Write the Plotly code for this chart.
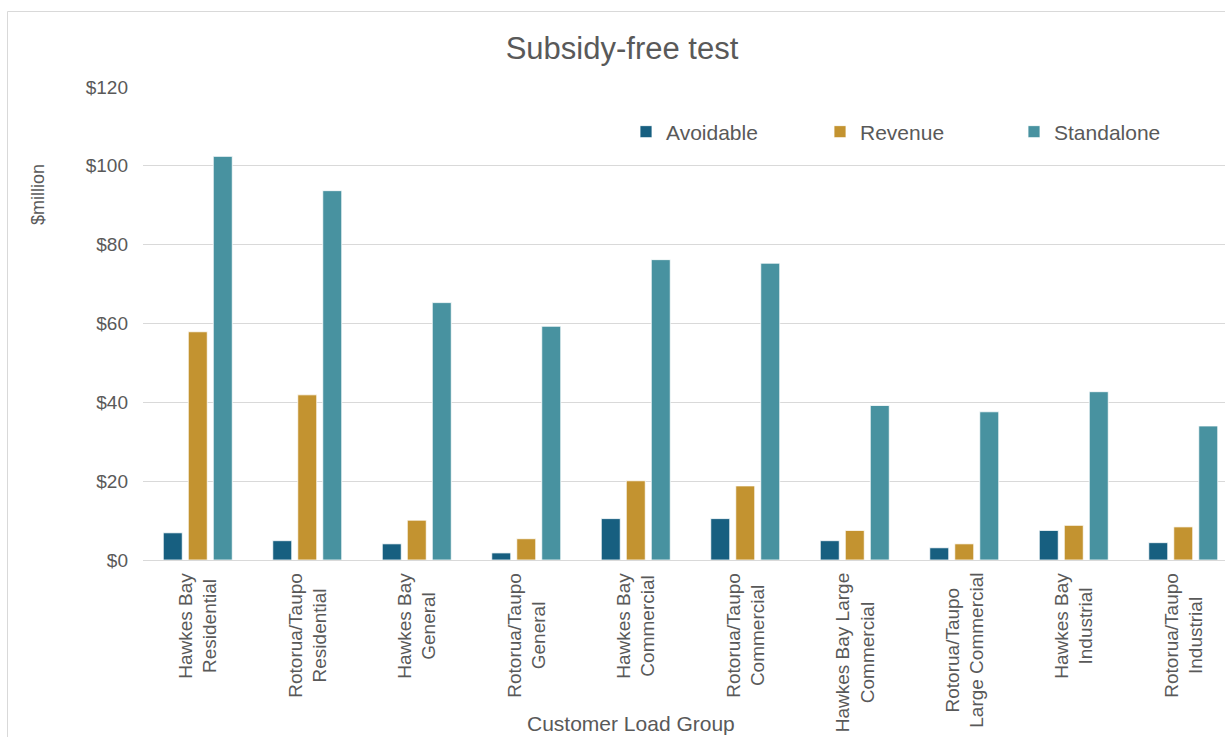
import plotly.graph_objects as go

categories = [
    "Hawkes Bay<br>Residential", "Rotorua/Taupo<br>Residential",
    "Hawkes Bay<br>General", "Rotorua/Taupo<br>General",
    "Hawkes Bay<br>Commercial", "Rotorua/Taupo<br>Commercial",
    "Hawkes Bay Large<br>Commercial", "Rotorua/Taupo<br>Large Commercial",
    "Hawkes Bay<br>Industrial", "Rotorua/Taupo<br>Industrial",
]
avoidable = [6.9, 4.9, 4.1, 1.8, 10.5, 10.5, 4.9, 3.1, 7.5, 4.4]
revenue = [57.9, 41.9, 10.1, 5.4, 20.1, 18.8, 7.5, 4.1, 8.8, 8.4]
standalone = [102.4, 93.7, 65.3, 59.3, 76.2, 75.3, 39.2, 37.6, 42.7, 34.0]
y_ticks = [0, 20, 40, 60, 80, 100, 120]
y_ticktext = ["$" + str(v) for v in y_ticks]

FONT = "Liberation Sans"
TXT = "#595959"

fig = go.Figure()
for name, vals, col in [("Avoidable", avoidable, "#175F80"),
                        ("Revenue", revenue, "#C39330"),
                        ("Standalone", standalone, "#4892A0")]:
    fig.add_trace(go.Bar(name=name, x=list(range(len(categories))), y=vals,
                         marker=dict(color=col, line=dict(color="#FFFFFF", width=0.8))))

L, R, T, B = 143, 0, 87, 177
W, H = 1225, 737
pw = W - L - R
ph = H - T - B
spacing = 109.5
xr_max = -0.5 + pw / spacing

def px_x(p):
    return (p - L) / pw

def px_y(p):
    return (H - B - p) / ph

annotations = [
    dict(text="$million", x=px_x(38), y=px_y(195), xref="paper", yref="paper",
         textangle=-90, showarrow=False, font=dict(size=18, color=TXT),
         xanchor="center", yanchor="middle"),
    dict(text="Customer Load Group", x=px_x(631), y=px_y(723), xref="paper", yref="paper",
         showarrow=False, font=dict(size=21, color=TXT),
         xanchor="center", yanchor="middle"),
]
for i, lab in enumerate(categories):
    annotations.append(dict(text=lab, x=i, y=px_y(571), xref="x", yref="paper",
                            textangle=-90, showarrow=False, align="center",
                            font=dict(size=19, color=TXT),
                            xanchor="center", yanchor="top"))

fig.update_layout(
    width=W, height=H,
    margin=dict(l=L, r=R, t=T, b=B, pad=0),
    paper_bgcolor="white", plot_bgcolor="white",
    font=dict(family=FONT, color=TXT, size=19),
    barmode="group", bargap=0.315, bargroupgap=0.24,
    title=dict(text="Subsidy-free test", x=622 / W, xanchor="center",
               y=1 - 48 / H, yanchor="middle", yref="container",
               font=dict(size=31, color=TXT, family=FONT)),
    showlegend=True,
    legend=dict(orientation="h", x=px_x(626), xanchor="left", y=px_y(132), yanchor="middle",
                font=dict(size=21, color=TXT, family=FONT), entrywidth=149,
                bgcolor="rgba(0,0,0,0)", traceorder="normal"),
    xaxis=dict(range=[-0.5, xr_max], tickmode="array",
               tickvals=list(range(len(categories))), showticklabels=False,
               showgrid=False, showline=True, linecolor="#D9D9D9",
               linewidth=1, ticks="", zeroline=False),
    yaxis=dict(range=[0, 120], tickmode="array", tickvals=y_ticks, ticktext=y_ticktext,
               showgrid=True, gridcolor="#D9D9D9", gridwidth=1, zeroline=False,
               showline=False, ticks="", tickfont=dict(size=19, color=TXT),
               ticklabelstandoff=14),
    annotations=annotations,
    shapes=[dict(type="rect", xref="paper", yref="paper",
                 x0=px_x(7.5), x1=px_x(1240), y0=px_y(750), y1=px_y(11.5),
                 line=dict(color="#D9D9D9", width=1), fillcolor="rgba(0,0,0,0)",
                 layer="below")],
)

fig.write_html("out.html")
